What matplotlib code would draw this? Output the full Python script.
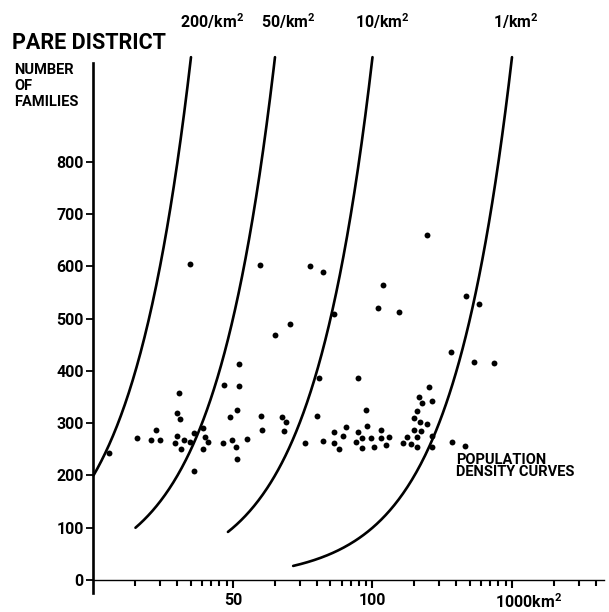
import matplotlib
matplotlib.use("Agg")

import matplotlib.pyplot as plt
import matplotlib.transforms as mtransforms
import numpy as np
from matplotlib.ticker import LogLocator, NullFormatter

plt.rcParams["font.family"] = ["Roboto", "DejaVu Sans"]
plt.rcParams["mathtext.fontset"] = "custom"
plt.rcParams["mathtext.rm"] = "Roboto:bold"
plt.rcParams["mathtext.bf"] = "Roboto:bold"

# settlements: area (km2) and number of families
area_km2 = [1.29, 2.05, 2.58, 3.0, 2.8, 3.97, 4.17, 4.10, 4.92, 3.97,
            3.84, 4.24, 4.45, 4.92, 5.25, 6.09, 6.30, 6.62, 6.09, 5.25,
            8.48, 9.5, 9.84, 10.5, 10.7, 10.7, 12.6, 11.0, 8.6, 11.0,
            15.6, 15.9, 16.1, 20.0, 25.6, 22.5, 24.0, 23.2, 32.8, 40.0,
            44.2, 35.6, 44.2, 53.0, 41.3, 53.0, 53.0, 57.5, 61.5, 64.6,
            78.7, 78.7, 76.2, 84.1, 84.1, 89.8, 91.3, 97.5, 102.5, 115,
            115, 125, 131, 119, 109, 155, 165, 177, 189, 198,
            198, 208, 208, 208, 215, 223, 219, 226, 246, 254,
            267, 267, 267, 246, 372, 460, 365, 468, 580, 534,
            743]
families = [243, 272, 268, 268, 287, 319, 308, 358, 604, 275,
            262, 250, 268, 264, 281, 291, 273, 264, 250, 208,
            262, 312, 268, 254, 325, 231, 270, 371, 373, 413,
            602, 314, 287, 468, 489, 312, 302, 285, 262, 314,
            266, 600, 589, 509, 386, 283, 262, 251, 275, 293,
            386, 283, 264, 272, 252, 325, 294, 272, 254, 287,
            272, 258, 273, 564, 520, 512, 262, 273, 260, 287,
            310, 323, 273, 254, 350, 285, 302, 338, 298, 369,
            342, 275, 254, 660, 264, 256, 436, 543, 528, 417,
            415]

# population density curves (families per km2) and the area span of each
densities = [200, 50, 10, 1]
curve_start_km2 = [1.0, 2.0, 9.2, 27.0]
curve_labels = ["200/km$^2$", "50/km$^2$", "10/km$^2$", "1/km$^2$"]
y_ticks = [0, 100, 200, 300, 400, 500, 600, 700, 800]
x_ticks = [10, 100, 1000]
x_tick_labels = ["50", "100", "1000km$^2$"]

fig = plt.figure(figsize=(6.09, 6.12), dpi=100)
ax = fig.add_axes([0.1535, 0.0266, 0.8384, 0.880])
ax.set_xscale("log")
ax.set_xlim(1, 10 ** 3.66)
ax.set_ylim(-30, 1000)

for d, a0 in zip(densities, curve_start_km2):
    a = np.geomspace(a0, 1000 / d, 200)
    ax.plot(a, d * a, color="black", lw=1.9, clip_on=False,
            solid_capstyle="round")

ax.scatter(area_km2, families, s=18, color="black", zorder=3,
           linewidths=0)

for side in ("top", "right"):
    ax.spines[side].set_visible(False)
ax.spines["bottom"].set_position(("data", 0))
ax.spines["bottom"].set_linewidth(1.0)
ax.spines["left"].set_linewidth(1.9)
ax.spines["left"].set_bounds(-25, 988)

ax.set_yticks(y_ticks)
ax.set_yticklabels([str(v) for v in y_ticks], fontsize=11.5,
                   fontweight="bold")
ax.tick_params(axis="y", direction="out", length=5, width=1.3, pad=2)

ax.set_xticks(x_ticks)
ax.set_xticklabels(x_tick_labels, fontsize=11.5, fontweight="bold")
ax.xaxis.set_minor_locator(LogLocator(base=10, subs=np.arange(2, 10)))
ax.xaxis.set_minor_formatter(NullFormatter())
ax.tick_params(axis="x", which="both", direction="out", width=1.5, pad=3)
ax.tick_params(axis="x", which="major", length=6)
ax.tick_params(axis="x", which="minor", length=4)

last = ax.get_xticklabels()[-1]
last.set_horizontalalignment("left")
last.set_transform(last.get_transform() +
                   mtransforms.ScaledTranslation(-0.17, 0, fig.dpi_scale_trans))

# headings
W, H = 609, 612
fig.text(12 / W, 1 - 43 / H, "PARE DISTRICT", fontsize=15.5,
         fontweight="bold", va="center", ha="left")
fig.text(14 / W, 1 - 86 / H, "NUMBER\nOF\nFAMILIES", fontsize=10.5,
         fontweight="bold", va="center", ha="left", linespacing=1.15)
for xc, lab in zip([212, 288, 382, 516], curve_labels):
    fig.text(xc / W, 1 - 21 / H, lab, fontsize=11.5, fontweight="bold",
             ha="center", va="center")
fig.text(456 / W, 1 - 466 / H, "POPULATION\nDENSITY CURVES", fontsize=10.5,
         fontweight="bold", ha="left", va="center", linespacing=0.9)

fig.savefig("out.png", dpi=100, facecolor="white")
